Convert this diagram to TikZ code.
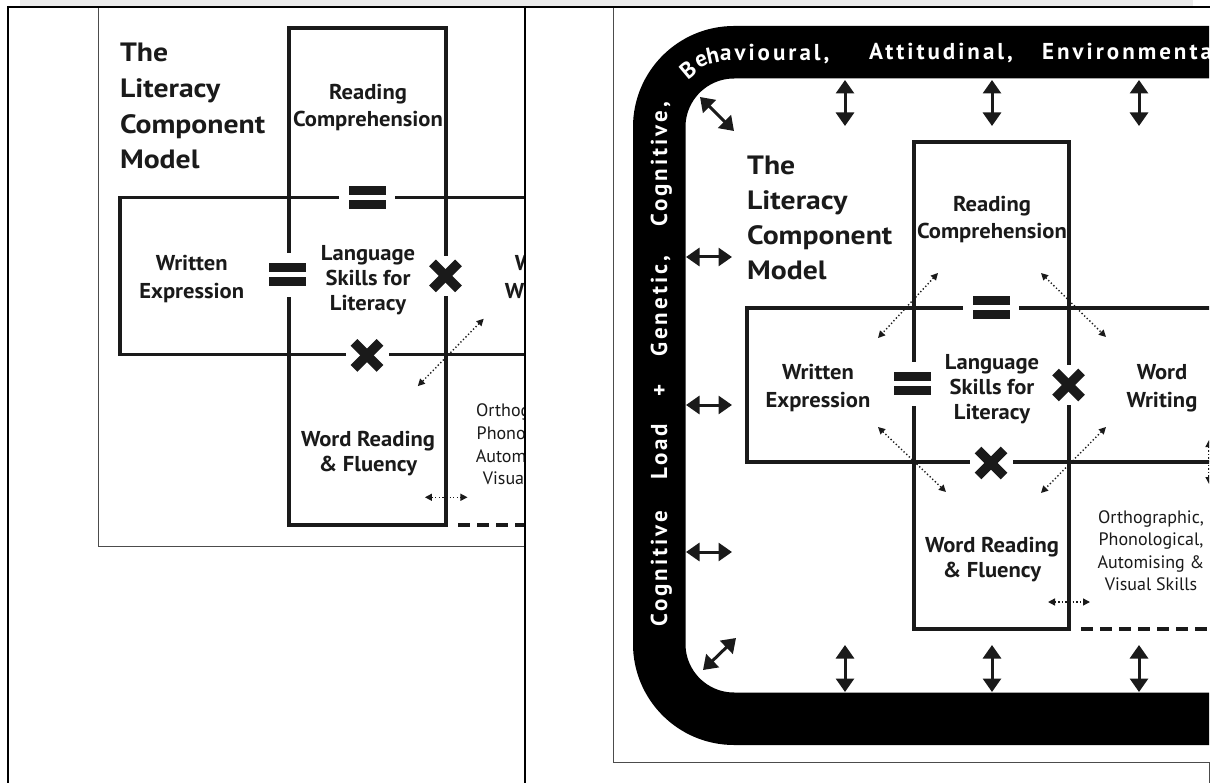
\documentclass[tikz,border=0pt]{standalone}
\usepackage{fontspec}
\setmainfont{PT Sans}
\newfontfamily\bandfont[LetterSpace=13]{PT Sans}
\newfontfamily\hdfont[FakeStretch=1.05]{PT Sans}
\newfontfamily\ttlfont[FakeStretch=1.12]{PT Sans}
\usetikzlibrary{arrows.meta}
\definecolor{ink}{HTML}{1A1A1A}
\tikzset{
  boxline/.style={draw=ink, line width=3.6pt},
  dashline/.style={draw=ink, line width=3.6pt, dash pattern=on 12pt off 7pt},
  hd/.style={anchor=base, inner sep=0pt, text=ink, font=\hdfont\bfseries\fontsize{21.5}{25}\selectfont},
  ttl/.style={anchor=base west, inner sep=0pt, text=ink, font=\ttlfont\bfseries\fontsize{26.5}{33}\selectfont},
  skl/.style={anchor=base, inner sep=0pt, text=ink, font=\fontsize{18}{22}\selectfont},
  eqsym/.style={fill=white, inner sep=0pt, path picture={
    \fill[ink] ([shift={(-18.5pt,2.5pt)}]path picture bounding box.center) rectangle ++(37pt,9pt);
    \fill[ink] ([shift={(-18.5pt,-11.5pt)}]path picture bounding box.center) rectangle ++(37pt,9pt);}},
  xsym/.style={fill=white, inner sep=0pt, path picture={
    \draw[ink, line width=9.5pt] ([shift={(-13pt,-13pt)}]path picture bounding box.center) -- ++(26pt,26pt);
    \draw[ink, line width=9.5pt] ([shift={(-13pt,13pt)}]path picture bounding box.center) -- ++(26pt,-26pt);}},
  dotarrow/.style={draw=ink, line width=1.4pt, dash pattern=on 1.3pt off 2.3pt,
    {Triangle[width=7pt,length=7pt]}-{Triangle[width=7pt,length=7pt]}},
  bigarrow/.style={draw=ink, line width=3pt,
    {Triangle[width=18pt,length=13.5pt]}-{Triangle[width=18pt,length=13.5pt]}},
  bandtxt/.style={inner sep=0pt, text=white, font=\bandfont\bfseries\fontsize{23}{28}\selectfont},
  panelline/.style={draw=black!70, line width=1pt},
}
\newcommand{\coremodel}{%
  \coordinate (vTL) at (914,142);
  \coordinate (vBR) at (1069,629);
  \coordinate (hTL) at (747,308);
  \coordinate (hBR) at (1236,462);
  \coordinate (dashS) at (1081,629);
  \coordinate (dashE) at (1300,629);
  \draw[boxline] (vTL) rectangle (vBR);
  \draw[boxline] (hTL) rectangle (hBR);
  \draw[dashline] (dashS) -- (dashE);
  \node[eqsym, minimum width=56pt, minimum height=30pt] (eqT) at (991,308) {};
  \node[eqsym, minimum width=40pt, minimum height=44pt] (eqL) at (912.5,384) {};
  \node[xsym, minimum width=36pt, minimum height=40pt] (xR) at (1068.5,385) {};
  \node[xsym, minimum width=43pt, minimum height=36pt] (xB) at (991,463) {};
  \node[ttl] (t1) at (747,175) {The};
  \node[ttl] (t2) at (747,210) {Literacy};
  \node[ttl] (t3) at (747,245) {Component};
  \node[ttl] (t4) at (747,280) {Model};
  \node[hd] (rc1) at (992,212) {Reading};
  \node[hd] (rc2) at (992,239) {Comprehension};
  \node[hd] (we1) at (818,380) {Written};
  \node[hd] (we2) at (818,407) {Expression};
  \node[hd] (ls1) at (992,370) {Language};
  \node[hd] (ls2) at (992,394.5) {Skills for};
  \node[hd] (ls3) at (992,419) {Literacy};
  \node[hd] (ww1) at (1162,380) {Word};
  \node[hd] (ww2) at (1162,407) {Writing};
  \node[hd] (wr1) at (992,552) {Word Reading};
  \node[hd] (wr2) at (992,577) {\& Fluency};
  \node[skl] (sk1) at (1151,523) {Orthographic,};
  \node[skl] (sk2) at (1151,545) {Phonological,};
  \node[skl] (sk3) at (1151,568) {Automising \&};
  \node[skl] (sk4) at (1151,590) {Visual Skills};
  \coordinate (brA) at (1106,427);
  \coordinate (brB) at (1041,493);
  \coordinate (hzA) at (1048,602);
  \coordinate (hzB) at (1090,602);
  \draw[dotarrow] (brA) -- (brB);
  \draw[dotarrow] (hzA) -- (hzB);
}
\begin{document}
\begin{tikzpicture}[x=1pt,y=-1pt]
\useasboundingbox (0,0) rectangle (1210,783);
\fill[white] (0,0) rectangle (1210,783);
\fill[black!8] (20,0) rectangle (1193,6);
% ---------- left panel ----------
\begin{scope}
  \clip (98.5,8) rectangle (524,545.5);
  \begin{scope}[name prefix=L-, shift={(289,28)}, xscale=1.013, yscale=1.02, shift={(-914,-142)}]
    \coremodel
  \end{scope}
\end{scope}
\draw[panelline] (98.5,7) -- (98.5,546) -- (525,546);
% ---------- right panel ----------
\begin{scope}
  \clip (614,8) rectangle (1209,762);
  \draw[line width=52.5pt, rounded corners=74.75pt] (1230,52.25) -- (659.25,52.25) -- (659.25,718.75) -- (1230,718.75);
  % band texts
  \node[bandtxt, rotate=90, anchor=base west] (bL1) at (667,627) {Cognitive};
  \node[bandtxt, rotate=90, anchor=base west] (bL2) at (667,480) {Load};
  \node[bandtxt, rotate=90, anchor=base] (bL3) at (667,390) {+};
  \node[bandtxt, rotate=90, anchor=base west] (bL4) at (667,357) {Genetic,};
  \node[bandtxt, rotate=90, anchor=base west] (bL5) at (667,227) {Cognitive,};
  \node[bandtxt, rotate=40] (bB) at (688,69.5) {B};
  \node[bandtxt, rotate=25] (bE) at (701.5,61) {e};
  \node[bandtxt, rotate=12] (bH) at (712.5,55) {h};
  \node[bandtxt, anchor=base west] (bT1) at (720,61) {avioural,};
  \node[bandtxt, anchor=base west] (bT2) at (869,60) {Attitudinal,};
  \node[bandtxt, anchor=base west] (bT3) at (1042,60) {Environmental};
  \begin{scope}[name prefix=R-]
    \coremodel
    \coordinate (tlA) at (938,273); \coordinate (tlB) at (878,338);
    \coordinate (trA) at (1041,273); \coordinate (trB) at (1106,337);
    \coordinate (blA) at (878,427); \coordinate (blB) at (946,492);
    \coordinate (rvA) at (1209,440); \coordinate (rvB) at (1209,484);
    \draw[dotarrow] (tlA) -- (tlB);
    \draw[dotarrow] (trA) -- (trB);
    \draw[dotarrow] (blA) -- (blB);
    \draw[dotarrow] (rvA) -- (rvB);
  \end{scope}
  % black arrows between band and model
  \foreach \xx [count=\i] in {845,992,1139}{
    \coordinate (at\i) at (\xx,80); \coordinate (ab\i) at (\xx,126);
    \draw[bigarrow] (at\i) -- (ab\i);
    \coordinate (bt\i) at (\xx,645); \coordinate (bb\i) at (\xx,692);
    \draw[bigarrow] (bt\i) -- (bb\i);
  }
  \foreach \yy [count=\i] in {257,405,552}{
    \coordinate (la\i) at (686,\yy); \coordinate (lb\i) at (732,\yy);
    \draw[bigarrow] (la\i) -- (lb\i);
  }
  \coordinate (dgA) at (700,97); \coordinate (dgB) at (734,131);
  \draw[bigarrow] (dgA) -- (dgB);
  \coordinate (dhA) at (703,670); \coordinate (dhB) at (736,638);
  \draw[bigarrow] (dhA) -- (dhB);
\end{scope}
\draw[panelline] (613.5,7) -- (613.5,762.5) -- (1209,762.5) -- (1209,783);
% ---------- frame lines ----------
\draw[black, line width=2pt] (7,7) -- (1210,7);
\draw[black, line width=2pt] (7.5,6) -- (7.5,783);
\draw[black, line width=2.5pt] (525,6) -- (525,783);
\end{tikzpicture}
\end{document}
